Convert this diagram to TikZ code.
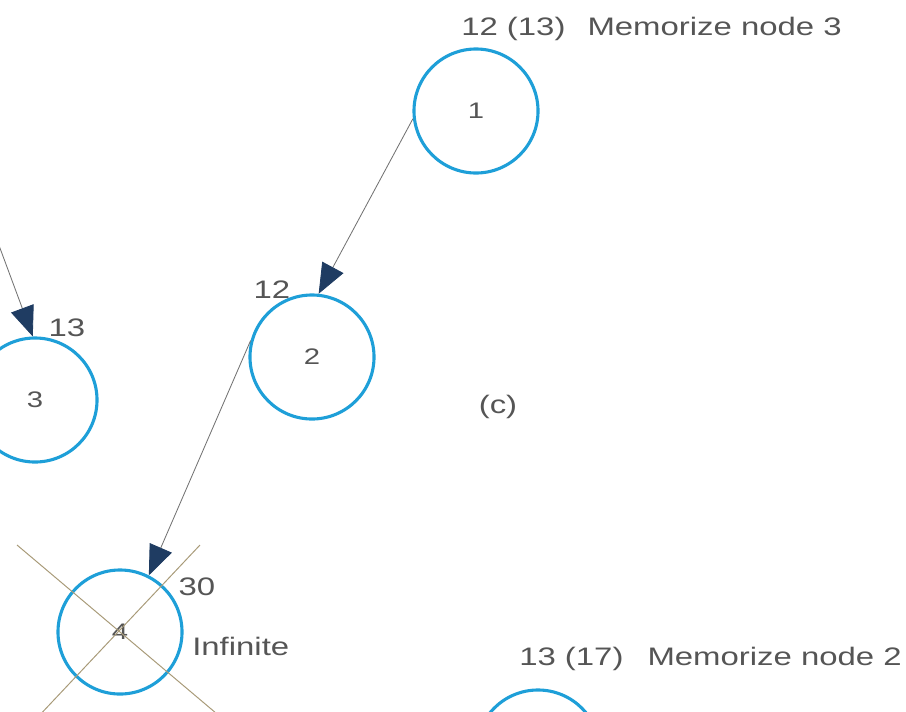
\documentclass[tikz,border=0pt]{standalone}
\usepackage{fontspec}
\setmainfont{Liberation Sans}
\newfontfamily\figfont[FakeStretch=1.3]{Liberation Sans}
\usepackage{tikz}
\usetikzlibrary{arrows.meta}
\definecolor{ringblue}{HTML}{1E9FD8}
\definecolor{tipnavy}{HTML}{1F3C62}
\definecolor{crossline}{HTML}{A89A78}
\definecolor{textgray}{HTML}{555555}
\tikzset{
  treenode/.style={circle, draw=ringblue, line width=2.2pt, minimum size=3.1cm,
    inner sep=0pt, font=\figfont\fontsize{16}{18}\selectfont, text=textgray},
  treearrow/.style={-{Triangle[length=7.5mm, width=6mm, color=tipnavy]},
    draw=gray!90!black, line width=0.6pt},
  treelabel/.style={font=\figfont\fontsize{18}{20}\selectfont, text=textgray, inner sep=0pt},
  crossmark/.style={draw=crossline, line width=0.7pt},
}

\begin{document}
\begin{tikzpicture}[x=0.025cm, y=-0.025cm]
  \clip (0,0) rectangle (906,711);
  % Knoten
  \node[treenode] (n1) at (476,111) {1};
  \node[treenode] (n2) at (312,357) {2};
  \node[treenode] (n3) at (35,400) {3};
  \node[treenode] (n4) at (120,632) {4};
  \node[treenode] (n5) at (538,752) {};
  % Kreuz ueber Knoten 4
  \coordinate (xa) at (17,545);  \coordinate (xb) at (223,719);
  \coordinate (xc) at (200,545); \coordinate (xd) at (36,719);
  \draw[crossmark] (xa) -- (xb);
  \draw[crossmark] (xc) -- (xd);
  % Kanten
  \coordinate (in3) at (-16,205);
  \draw[treearrow] (in3) -- (n3.92);
  \draw[treearrow] (n1.187) -- (n2.84);
  \draw[treearrow] (n2.165) -- (n4.63);
  % Beschriftungen
  \node[treelabel, anchor=west] (memo3) at (461,29) {12 (13)\hspace{5.5mm}Memorize node 3};
  \node[treelabel] (w3) at (67,328) {13};
  \node[treelabel] (w2) at (272,290) {12};
  \node[treelabel] (cap) at (498,407) {(c)};
  \node[treelabel] (w4) at (197,587) {30};
  \node[treelabel, anchor=west] (inf) at (192,646) {Infinite};
  \node[treelabel, anchor=west] (memo2) at (519,659) {13 (17)\hspace{6mm}Memorize node 2};
\end{tikzpicture}
\end{document}
